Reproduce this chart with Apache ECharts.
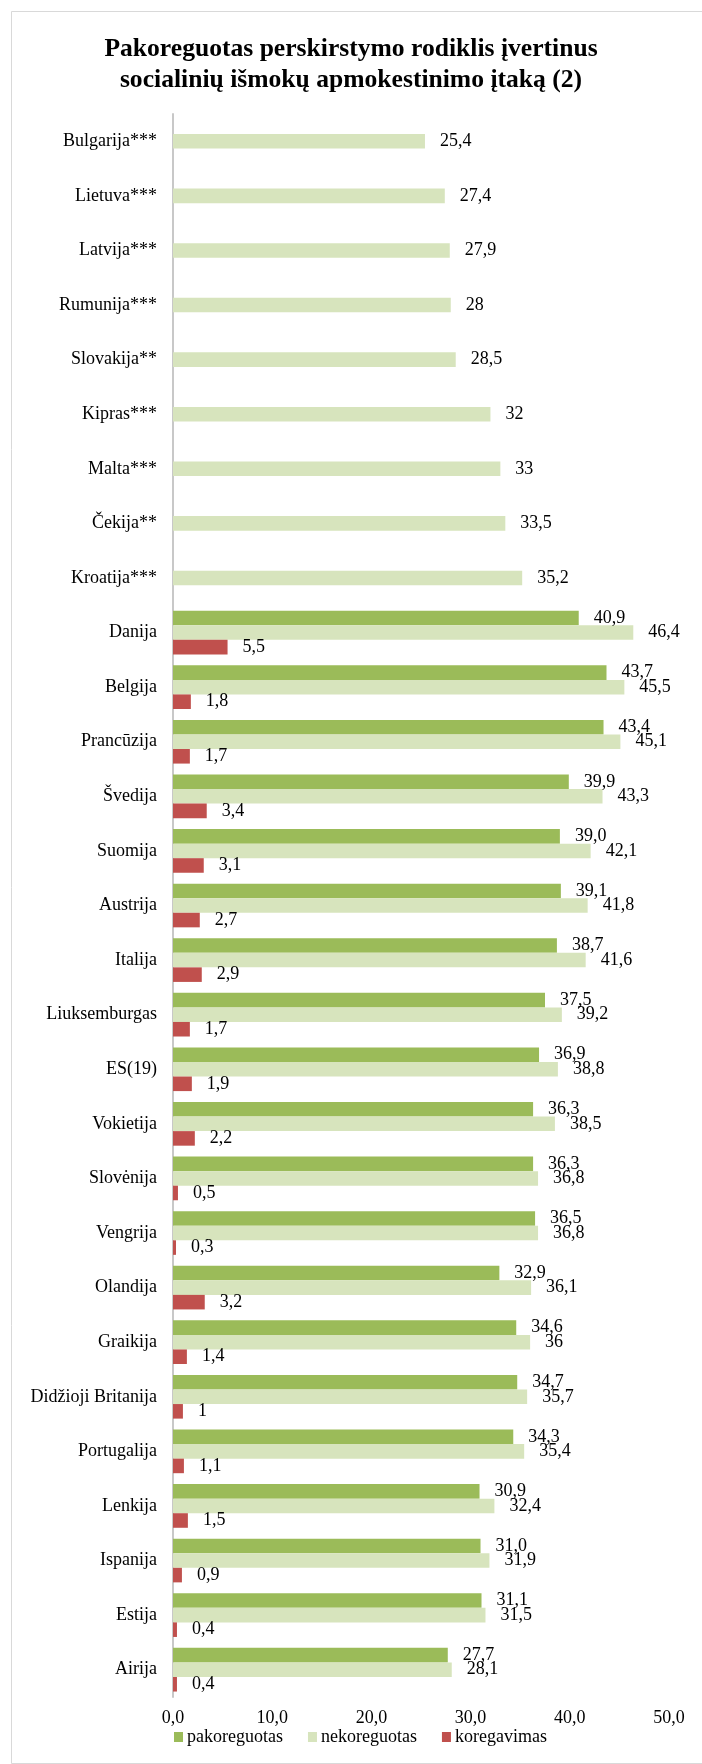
<!DOCTYPE html>
<html>
<head>
<meta charset="utf-8">
<style>html,body{margin:0;padding:0;background:#fff;}#c{width:702px;height:1764px;}</style>
<script src="https://cdn.jsdelivr.net/npm/echarts@6/dist/echarts.min.js"></script>
</head>
<body>
<div id="c"></div>
<script>
const titleText = 'Pakoreguotas perskirstymo rodiklis įvertinus\nsocialinių išmokų apmokestinimo įtaką (2)';
const categories = ['Bulgarija***','Lietuva***','Latvija***','Rumunija***','Slovakija**','Kipras***','Malta***','Čekija**','Kroatija***','Danija','Belgija','Prancūzija','Švedija','Suomija','Austrija','Italija','Liuksemburgas','ES(19)','Vokietija','Slovėnija','Vengrija','Olandija','Graikija','Didžioji Britanija','Portugalija','Lenkija','Ispanija','Estija','Airija'];
const pakoreguotas = [null,null,null,null,null,null,null,null,null,40.9,43.7,43.4,39.9,39.0,39.1,38.7,37.5,36.9,36.3,36.3,36.5,32.9,34.6,34.7,34.3,30.9,31.0,31.1,27.7];
const nekoreguotas = [25.4,27.4,27.9,28,28.5,32,33,33.5,35.2,46.4,45.5,45.1,43.3,42.1,41.8,41.6,39.2,38.8,38.5,36.8,36.8,36.1,36,35.7,35.4,32.4,31.9,31.5,28.1];
const koregavimas = [null,null,null,null,null,null,null,null,null,5.5,1.8,1.7,3.4,3.1,2.7,2.9,1.7,1.9,2.2,0.5,0.3,3.2,1.4,1,1.1,1.5,0.9,0.4,0.4];
const seriesNames = ['pakoreguotas','nekoreguotas','koregavimas'];
const xTicks = [0,10,20,30,40,50];

const FONT = '"Liberation Serif", "Times New Roman", serif';
const colors = ['#9BBB59','#D7E4BD','#C0504D'];
const fmtFixed = p => p.value.toFixed(1).replace('.', ',');
const fmtRaw = p => String(p.value).replace('.', ',');

function mkSeries(name, data, color, fmt) {
  return {
    name: name, type: 'bar', data: data,
    barGap: '0%', barCategoryGap: '20%',
    itemStyle: { color: color },
    label: { show: true, position: 'right', distance: 15, formatter: fmt,
      fontFamily: FONT, fontSize: 18, color: '#000' },
    emphasis: { disabled: true },
    animation: false
  };
}

const chart = echarts.init(document.getElementById('c'), null, { renderer: 'canvas' });
chart.setOption({
  backgroundColor: '#fff',
  animation: false,
  textStyle: { fontFamily: FONT },
  title: {
    text: titleText, left: 'center', top: 34, padding: 0,
    textStyle: { fontFamily: FONT, fontSize: 25.6, fontWeight: 'bold', color: '#000', lineHeight: 31 }
  },
  graphic: [{
    type: 'rect', left: 9, top: 9, silent: true,
    shape: { width: 691, height: 1752 },
    style: { fill: 'none', stroke: '#d9d9d9', lineWidth: 1 }
  }],
  legend: {
    data: seriesNames, left: 174, top: 1728, itemWidth: 9, itemHeight: 10, itemGap: 25,
    icon: 'rect', padding: 0,
    textStyle: { fontFamily: FONT, fontSize: 18, color: '#000', padding: [0,0,0,-1] }
  },
  grid: { left: 173, right: 33, top: 114, bottom: 67, containLabel: false },
  xAxis: {
    type: 'value', min: xTicks[0], max: xTicks[xTicks.length-1], interval: 10,
    axisLine: { show: false }, axisTick: { show: false }, splitLine: { show: false },
    axisLabel: { fontFamily: FONT, fontSize: 18, color: '#000', margin: 12,
      formatter: v => v.toFixed(1).replace('.', ',') }
  },
  yAxis: {
    type: 'category', data: categories, inverse: true,
    axisLine: { show: true, lineStyle: { color: '#c8c8c8', width: 2 } },
    axisTick: { show: false },
    axisLabel: { fontFamily: FONT, fontSize: 18, color: '#000', margin: 16 }
  },
  series: [
    mkSeries(seriesNames[0], pakoreguotas, colors[0], fmtFixed),
    mkSeries(seriesNames[1], nekoreguotas, colors[1], fmtRaw),
    mkSeries(seriesNames[2], koregavimas, colors[2], fmtRaw)
  ]
});
</script>
</body>
</html>
